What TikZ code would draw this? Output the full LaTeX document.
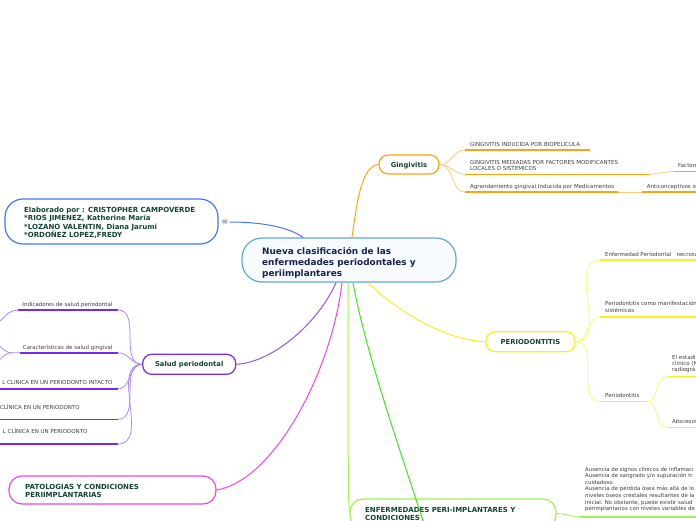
\documentclass[tikz,border=0pt]{standalone}
\usepackage{fontspec}
\setmainfont{DejaVu Sans}
\usetikzlibrary{fit,calc}
\definecolor{tdark}{RGB}{18,68,52}
\definecolor{tnavy}{RGB}{22,36,78}
\definecolor{tgray}{RGB}{62,62,62}
\definecolor{cOrange}{RGB}{255,163,20}
\definecolor{cOrangeL}{RGB}{255,204,120}
\definecolor{cYellow}{RGB}{244,244,30}
\definecolor{cYellowL}{RGB}{248,248,120}
\definecolor{cPurple}{RGB}{118,42,240}
\definecolor{cPurpleL}{RGB}{172,135,250}
\definecolor{cMag}{RGB}{238,70,238}
\definecolor{cLGreen}{RGB}{160,240,80}
\definecolor{cGreen}{RGB}{60,232,30}
\definecolor{cBlue}{RGB}{72,118,245}
\definecolor{cCenter}{RGB}{100,165,220}
\definecolor{cFill}{RGB}{247,251,254}
\definecolor{cEq}{RGB}{90,110,140}
\begin{document}
\begin{tikzpicture}[x=1pt,y=-1pt,
  pill/.style={draw, line width=1.2pt, rounded corners=9pt, fill=white, font=\fontsize{6.8}{8}\selectfont\bfseries, text=tdark, text height=5pt, text depth=0pt, inner sep=0pt},
  bigbox/.style={draw, line width=1.2pt, rounded corners=15pt, fill=white, inner sep=0pt},
  btext/.style={font=\fontsize{7}{8.2}\selectfont\bfseries, text=tdark, align=left, inner sep=0pt, anchor=base west},
  ctext/.style={font=\fontsize{8.9}{10.9}\selectfont\bfseries, text=tnavy, align=left, inner sep=0pt, anchor=base west},
  leaf/.style={font=\fontsize{5.5}{6.2}\selectfont, text=tgray, align=left, inner sep=0pt, anchor=base west},
  leafr/.style={font=\fontsize{5.5}{6.2}\selectfont, text=tgray, align=right, inner sep=0pt, anchor=base east},
  uline/.style={line width=1.6pt},
  conn/.style={line width=0.8pt},
]
\useasboundingbox (0,0) rectangle (696,520);
\clip (0,0) rectangle (696,520);

% ---------- central node (text anchored at the baseline of its last line) ----------
\node[draw=cCenter, fill=cFill, line width=1.2pt, rounded corners=20pt, inner sep=0pt, fit={(242,238) (456,282)}] (cbox) {};
\node[ctext] (ctxt) at (262,276.1) {Nueva clasificación de las\\enfermedades periodontales y\\periimplantares};

% ---------- authors ----------
\node[bigbox, draw=cBlue, rounded corners=18pt, fit={(5,199) (218,244)}] (elab) {};
\node[btext] (elabt) at (24,237.3) {Elaborado por : CRISTOPHER CAMPOVERDE\\*RIOS JIMENEZ, Katherine María\\*LOZANO VALENTIN, Diana Jarumi\\*ORDOÑEZ LOPEZ,FREDY};
\node[font=\fontsize{8}{8}\selectfont, text=cEq, inner sep=1pt] (eq) at (225,222) {≡};

% ---------- main branches ----------
\node[pill, draw=cOrange, minimum width=60pt, minimum height=19pt] (ging) at (409,164.5) {Gingivitis};
\node[pill, draw=cYellow, minimum width=89pt, minimum height=20pt] (perio) at (530.5,341.7) {PERIODONTITIS};
\node[pill, draw=cPurple, minimum width=93pt, minimum height=20pt] (salud) at (189.2,364.3) {Salud periodontal};
\node[bigbox, draw=cMag, rounded corners=13pt, fit={(9,476) (216,504)}] (pato) {};
\node[btext] (patot) at (25,497.2) {PATOLOGIAS Y CONDICIONES\\PERIIMPLANTARIAS};
\node[bigbox, draw=cLGreen, rounded corners=13pt, fit={(350,499) (556,528)}] (enf) {};
\node[btext] (enft) at (365,520.2) {ENFERMEDADES PERI-IMPLANTARES Y\\CONDICIONES};

% ---------- main connectors ----------
\draw[conn, line width=1pt, cBlue] (eq.east) .. controls (265,222) and (290,228) .. ($(cbox.north)+(-46,0)$);
\draw[conn, line width=1pt, cOrange] ($(cbox.north)+(3,0)$) .. controls (357,200) and (362,166) .. (ging.west);
\draw[conn, line width=1pt, cYellow] ($(cbox.south)+(19,0)$) .. controls (390,305) and (440,340) .. (perio.west);
\draw[conn, line width=1pt, cPurple!80] ($(cbox.south)+(-13,0)$) .. controls (320,320) and (275,362) .. (salud.east);
\draw[conn, line width=1pt, cMag] ($(cbox.south)+(-7,0)$) .. controls (332,370) and (275,480) .. (pato.east);
\draw[conn, line width=1pt, cLGreen] ($(cbox.south)+(-1,0)$) .. controls (348,420) and (348,500) .. (enf.west);
\coordinate (gEnd) at (426,530);
\draw[conn, line width=1pt, cGreen] ($(cbox.south)+(4,0)$) .. controls (365,350) and (400,450) .. (gEnd);

% ---------- Gingivitis leaves ----------
\coordinate (g1a) at (465,150); \coordinate (g1b) at (590,150);
\coordinate (g2a) at (465,174.3); \coordinate (g2b) at (649,174.3);
\coordinate (g2c) at (674,171.5); \coordinate (g2d) at (700,171.5);
\coordinate (g3a) at (465,192); \coordinate (g3b) at (618,192);
\coordinate (g3c) at (642,192); \coordinate (g3d) at (700,192);
\node[leaf] (g1) at (470,146) {GINGIVITIS INDUCIDA POR BIOPELÍCULA};
\node[leaf] (g2) at (470,170.2) {GINGIVITIS MEDIADAS POR FACTORES MODIFICANTES\\LOCALES O SISTEMICOS};
\node[leaf] (g2x) at (678,167) {Factores};
\node[leaf] (g3) at (470,188) {Agrandamiento gingival Inducida por Medicamentos};
\node[leaf] (g3x) at (646.7,188) {Anticonceptivos o};
\draw[uline, cOrange] (g1a) -- (g1b);
\draw[uline, cOrange] (g2a) -- (g2b);
\draw[uline, cOrange] (g2c) -- (g2d);
\draw[uline, cOrange] (g3a) -- (g3b);
\draw[uline, cOrange] (g3c) -- (g3d);
\draw[conn, cOrangeL] (ging.east) to[out=0,in=180] (g1a);
\draw[conn, cOrangeL] (ging.east) to[out=0,in=180] (g2a);
\draw[conn, cOrangeL] (ging.east) to[out=0,in=180] (g3a);
\draw[conn, cOrangeL] (g2b) to[out=0,in=180] (g2c);
\draw[conn, cOrangeL] (g3b) -- (g3c);

% ---------- Periodontitis leaves ----------
\coordinate (p1a) at (600,260); \coordinate (p1b) at (700,260);
\coordinate (p2a) at (600,317); \coordinate (p2b) at (700,317);
\coordinate (p3a) at (600,401.7); \coordinate (p3b) at (646.7,401.7);
\coordinate (p4a) at (667,376.7); \coordinate (p4b) at (700,376.7);
\coordinate (p5a) at (667,427.3); \coordinate (p5b) at (700,427.3);
\node[leaf] (p1) at (605,256) {Enfermedad Periodontal\hspace{5pt}necrosa};
\node[leaf, font=\fontsize{5.5}{7}\selectfont] (p2) at (605,312.7) {Periodontitis como manifestación\\sistémicas};
\node[leaf] (p3) at (605,397) {Periodontitis};
\node[leaf, font=\fontsize{5.5}{6.3}\selectfont] (p4) at (672,371.6) {El estadi\\clínico (N\\radiográ};
\node[leaf] (p5) at (672,423) {Abscesos};
\draw[uline, line width=1.3pt, cYellow] (p1a) -- (p1b);
\draw[uline, line width=1.3pt, cYellow] (p2a) -- (p2b);
\draw[uline, line width=1.3pt, cYellow] (p3a) -- (p3b);
\draw[uline, line width=1.3pt, cYellow] (p4a) -- (p4b);
\draw[uline, line width=1.3pt, cYellow] (p5a) -- (p5b);
\draw[conn, cYellowL] (perio.east) to[out=0,in=180] (p1a);
\draw[conn, cYellowL] (perio.east) to[out=0,in=180] (p2a);
\draw[conn, cYellowL] (perio.east) to[out=0,in=180] (p3a);
\draw[conn, cYellowL] (p3b) to[out=0,in=180] (p4a);
\draw[conn, cYellowL] (p3b) to[out=0,in=180] (p5a);

% ---------- Salud leaves ----------
\coordinate (s1a) at (18,310); \coordinate (s1b) at (118,310);
\coordinate (s2a) at (20,352.7); \coordinate (s2b) at (118,352.7);
\coordinate (s3a) at (-5,389); \coordinate (s3b) at (118,389);
\coordinate (s4a) at (-5,419.3); \coordinate (s4b) at (118,419.3);
\coordinate (s5a) at (-5,444); \coordinate (s5b) at (118,444);
\node[leafr] (s1) at (112.7,306) {Indicadores de salud periodontal};
\node[leafr] (s2) at (112.7,349) {Características de salud gingival};
\node[leafr] (s3) at (112.7,384.7) {L CLINICA EN UN PERIODONTO INTACTO};
\node[leafr] (s4) at (80,409.3) {CLÍNICA EN UN PERIODONTO};
\node[leafr] (s5) at (87.7,433.7) {L CLÍNICA EN UN PERIODONTO};
\foreach \s in {1,...,5}{\draw[uline, cPurple] (s\s a) -- (s\s b);}
\foreach \s in {1,...,5}{\draw[conn, cPurpleL] (salud.west) to[out=180,in=0] (s\s b);}
\coordinate (s1c) at (-14,328);
\coordinate (s2c) at (-12,340); \coordinate (s2d) at (-12,366);
\draw[conn, cPurpleL] (s1a) to[out=180,in=0] (s1c);
\draw[conn, cPurpleL] (s2a) -- (12,352.7) to[out=180,in=0] (s2c);
\draw[conn, cPurpleL] (12,352.7) to[out=180,in=0] (s2d);

% ---------- peri-implant health text ----------
\coordinate (e1a) at (580,517); \coordinate (e1b) at (700,517);
\node[leaf, font=\fontsize{5.4}{6.6}\selectfont] (e1) at (585,510.6) {Ausencia de signos clínicos de inflamaci\\Ausencia de sangrado y/o supuración tr\\cuidadoso.\\Ausencia de pérdida ósea más allá de lo\\niveles óseos crestales resultantes de la\\inicial. No obstante, puede existir salud\\perimplantarios con niveles variables de};
\draw[uline, line width=1.4pt, cLGreen] (e1a) -- (e1b);
\draw[conn, cLGreen] (enf.east) to[out=0,in=180] (e1a);
\end{tikzpicture}
\end{document}
